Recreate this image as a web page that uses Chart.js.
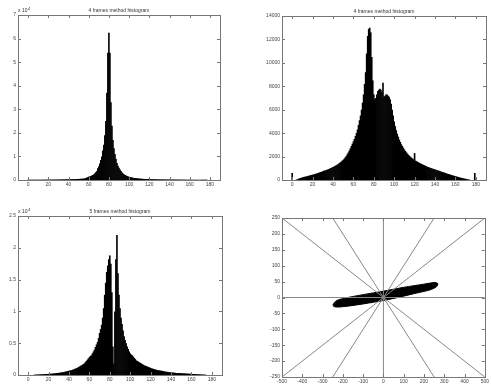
<!DOCTYPE html>
<html>
<head>
<meta charset="UTF-8" />
<title>frames method histogram</title>
<script src="https://cdn.jsdelivr.net/npm/chart.js"></script>
<style>
  body { margin: 0; background: #fff; }
  #wrap { position: relative; width: 491px; height: 385px; }
  canvas { position: absolute; left: 0; top: 0; }
</style>
</head>
<body>
<div id="wrap">
  <canvas id="c1" width="491" height="385"></canvas>
  <canvas id="c2" width="491" height="385"></canvas>
  <canvas id="c3" width="491" height="385"></canvas>
  <canvas id="c4" width="491" height="385"></canvas>
</div>
<script>
// bin centres 0..179
const hist4a = [ // x 10^4
  0.01,0.01,0.01,0.01,0.01,0.01,0.01,0.01,0.01,0.01,
  0.01,0.01,0.01,0.012,0.012,0.012,0.013,0.013,0.014,0.014,
  0.015,0.015,0.016,0.016,0.017,0.017,0.018,0.018,0.019,0.019,
  0.02,0.021,0.022,0.023,0.024,0.025,0.026,0.027,0.028,0.029,
  0.03,0.031,0.032,0.033,0.034,0.035,0.037,0.039,0.041,0.043,
  0.045,0.048,0.051,0.054,0.057,0.06,0.07,0.08,0.1,0.12,
  0.14,0.15,0.17,0.19,0.21,0.24,0.28,0.33,0.38,0.5,
  0.58,0.7,0.85,1.0,1.25,1.5,1.9,2.5,3.7,5.4,
  6.25,5.4,3.3,2.3,1.7,1.35,1.1,0.9,0.72,0.6,
  0.52,0.45,0.38,0.32,0.28,0.24,0.21,0.19,0.17,0.15,
  0.14,0.13,0.12,0.11,0.1,0.09,0.08,0.075,0.07,0.065,
  0.06,0.057,0.054,0.05,0.047,0.045,0.043,0.041,0.039,0.037,
  0.06,0.034,0.033,0.032,0.031,0.03,0.029,0.028,0.027,0.026,
  0.025,0.024,0.024,0.023,0.023,0.022,0.022,0.021,0.021,0.02,
  0.02,0.02,0.019,0.019,0.018,0.018,0.017,0.017,0.016,0.016,
  0.015,0.015,0.014,0.014,0.013,0.013,0.012,0.012,0.011,0.011,
  0.01,0.01,0.01,0.01,0.009,0.009,0.009,0.009,0.008,0.008,
  0.008,0.008,0.007,0.007,0.007,0.006,0.006,0.006,0.005,0.005
];
const hist4b = [
  600,0,0,0,20,60,100,130,160,190,
  220,250,270,290,310,330,360,380,410,430,
  450,480,500,530,560,590,620,650,680,710,
  740,780,810,840,870,900,940,980,1020,1060,
  1100,1150,1200,1250,1300,1350,1420,1490,1560,1640,
  1720,1820,1930,2050,2200,2350,2520,2700,2900,3100,
  3300,3500,3750,4000,4300,4700,5100,5500,6000,6600,
  7300,8200,9200,10800,12300,12900,13000,12600,10500,8500,
  7300,6900,7000,7300,7600,7700,7800,7700,7500,8300,
  7100,7200,7300,7300,7200,7100,6900,6500,6000,5500,
  5000,4600,4250,3950,3700,3450,3250,3050,2900,2750,
  2600,2480,2360,2250,2150,2060,1980,1900,1830,1760,
  2300,1650,1600,1550,1500,1450,1400,1360,1320,1280,
  1240,1200,1160,1120,1090,1050,1020,990,960,930,
  900,870,840,810,780,750,720,690,660,630,
  600,570,540,510,490,460,430,400,380,350,
  330,300,280,250,230,200,180,160,140,120,
  100,80,60,40,20,0,0,0,0,600
];
const hist5 = [ // x 10^4
  0,0,0,0,0,0,0.004,0.005,0.006,0.007,
  0.008,0.009,0.01,0.011,0.012,0.013,0.014,0.015,0.016,0.017,
  0.018,0.019,0.02,0.021,0.022,0.024,0.026,0.028,0.03,0.032,
  0.034,0.036,0.038,0.04,0.043,0.046,0.05,0.054,0.058,0.062,
  0.066,0.07,0.075,0.08,0.085,0.09,0.1,0.105,0.11,0.12,
  0.13,0.14,0.15,0.16,0.17,0.18,0.2,0.22,0.24,0.26,
  0.28,0.3,0.31,0.34,0.37,0.4,0.44,0.48,0.52,0.58,
  0.66,0.72,0.79,0.9,1.05,1.26,1.45,1.62,1.72,1.82,
  1.88,1.75,1.3,0.45,0.18,1.0,1.82,2.2,1.6,1.26,
  1.05,0.9,0.8,0.7,0.61,0.55,0.5,0.45,0.41,0.37,
  0.34,0.32,0.31,0.29,0.27,0.25,0.23,0.22,0.21,0.2,
  0.19,0.18,0.17,0.16,0.15,0.145,0.14,0.13,0.125,0.12,
  0.11,0.105,0.1,0.095,0.09,0.085,0.08,0.077,0.074,0.071,
  0.068,0.065,0.062,0.059,0.056,0.053,0.051,0.049,0.047,0.045,
  0.043,0.041,0.039,0.037,0.035,0.033,0.032,0.031,0.03,0.029,
  0.028,0.027,0.026,0.025,0.024,0.023,0.022,0.021,0.02,0.019,
  0.018,0.017,0.016,0.015,0.014,0.013,0.012,0.011,0.01,0.009,
  0.008,0.007,0.006,0.005,0.004,0,0,0,0,0
];

// lines through the centre of the last panel
const rays = [
  [[-500, 250], [500, -250]],
  [[-250, 250], [250, -250]],
  [[-250, -250], [250, 250]],
  [[-500, -250], [500, 250]],
  [[0, -250], [0, 250]],
  [[-500, 0], [500, 0]]
];
// outline of the point cloud
const cloudX = [-248,-232,-190,-100,0,100,200,250,268,262,230,150,50,-50,-150,-220,-245,-248];
const cloudY = [-21,-10,-2,9,20,32,42,47,44,34,24,12,-3,-15,-25,-30,-28,-21];

const tickFont = { family: "Liberation Sans", size: 5 };
const tickColor = "#444";

const frame = {
  id: "frame",
  afterDatasetsDraw(chart, args, opts) {
    const { ctx, chartArea: a } = chart;
    const x = chart.scales.x, y = chart.scales.y;
    ctx.save();
    ctx.strokeStyle = "#777";
    ctx.lineWidth = 1;
    ctx.strokeRect(Math.round(a.left) + 0.5, Math.round(a.top) + 0.5, Math.round(a.right - a.left), Math.round(a.bottom - a.top));
    ctx.beginPath();
    x.ticks.forEach(t => {
      const px = Math.round(x.getPixelForValue(t.value)) + 0.5;
      ctx.moveTo(px, a.bottom); ctx.lineTo(px, a.bottom - 3);
      ctx.moveTo(px, a.top); ctx.lineTo(px, a.top + 3);
    });
    y.ticks.forEach(t => {
      const py = Math.round(y.getPixelForValue(t.value)) + 0.5;
      ctx.moveTo(a.left, py); ctx.lineTo(a.left + 3, py);
      ctx.moveTo(a.right, py); ctx.lineTo(a.right - 3, py);
    });
    ctx.stroke();
    ctx.fillStyle = "#333";
    ctx.font = '5px "Liberation Sans"';
    if (opts.title) {
      ctx.textAlign = "center";
      ctx.textBaseline = "bottom";
      ctx.fillText(opts.title, (a.left + a.right) / 2, a.top - 2);
    }
    if (opts.exp) {
      ctx.textAlign = "left";
      ctx.textBaseline = "bottom";
      ctx.fillText("x 10", a.left, a.top - 2);
      ctx.font = '4px "Liberation Sans"';
      ctx.fillText(opts.exp, a.left + 10, a.top - 4);
    }
    ctx.restore();
  }
};

function axes(xMin, xMax, xStep, yMin, yMax, yStep, yWidth, xHeight) {
  return {
    x: {
      type: "linear", min: xMin, max: xMax,
      grid: { display: false, drawTicks: false }, border: { display: false },
      ticks: { stepSize: xStep, font: tickFont, color: tickColor, padding: 2, maxRotation: 0, callback: v => String(v) },
      afterFit: s => { s.height = xHeight; }
    },
    y: {
      type: "linear", min: yMin, max: yMax,
      grid: { display: false, drawTicks: false }, border: { display: false },
      ticks: { stepSize: yStep, font: tickFont, color: tickColor, padding: 2, callback: v => String(v) },
      afterFit: s => { s.width = yWidth; }
    }
  };
}

function histogram(id, values, yMax, yStep, pad, yWidth, xHeight, title, exp) {
  new Chart(document.getElementById(id), {
    type: "bar",
    data: {
      datasets: [{
        data: values.map((v, i) => ({ x: i, y: v })),
        backgroundColor: "#000",
        borderWidth: 0,
        barPercentage: 1.6,
        categoryPercentage: 1
      }]
    },
    options: {
      responsive: false,
      animation: false,
      layout: { padding: pad },
      plugins: { legend: { display: false }, tooltip: { enabled: false }, frame: { title, exp } },
      scales: axes(0, 180, 20, 0, yMax, yStep, yWidth, xHeight)
    },
    plugins: [frame]
  });
}

histogram("c1", hist4a, 7, 1, { left: 4, top: 15, right: 271, bottom: 193 }, 14, 12, "4 frames method histogram", "4");
histogram("c2", hist4b, 14000, 2000, { left: 260, top: 16, right: 5, bottom: 193 }, 22, 12, "4 frames method histogram", null);
histogram("c3", hist5, 2.5, 0.5, { left: 4, top: 216, right: 269, bottom: 0 }, 14, 10, "5 frames method histogram", "4");

const lineSets = rays.map(r => ({
  data: r.map(p => ({ x: p[0], y: p[1] })),
  showLine: true, borderColor: "#888", borderWidth: 1, pointRadius: 0
}));
lineSets.push({
  data: cloudX.map((v, i) => ({ x: v, y: cloudY[i] })),
  showLine: true, fill: "shape", tension: 0.3,
  borderColor: "#000", backgroundColor: "#000", borderWidth: 1, pointRadius: 0
});

new Chart(document.getElementById("c4"), {
  type: "scatter",
  data: { datasets: lineSets },
  options: {
    responsive: false,
    animation: false,
    layout: { padding: { left: 262, top: 218, right: 5, bottom: 0 } },
    plugins: { legend: { display: false }, tooltip: { enabled: false }, frame: {} },
    scales: axes(-500, 500, 100, -250, 250, 50, 20, 8)
  },
  plugins: [frame]
});
</script>
</body>
</html>
